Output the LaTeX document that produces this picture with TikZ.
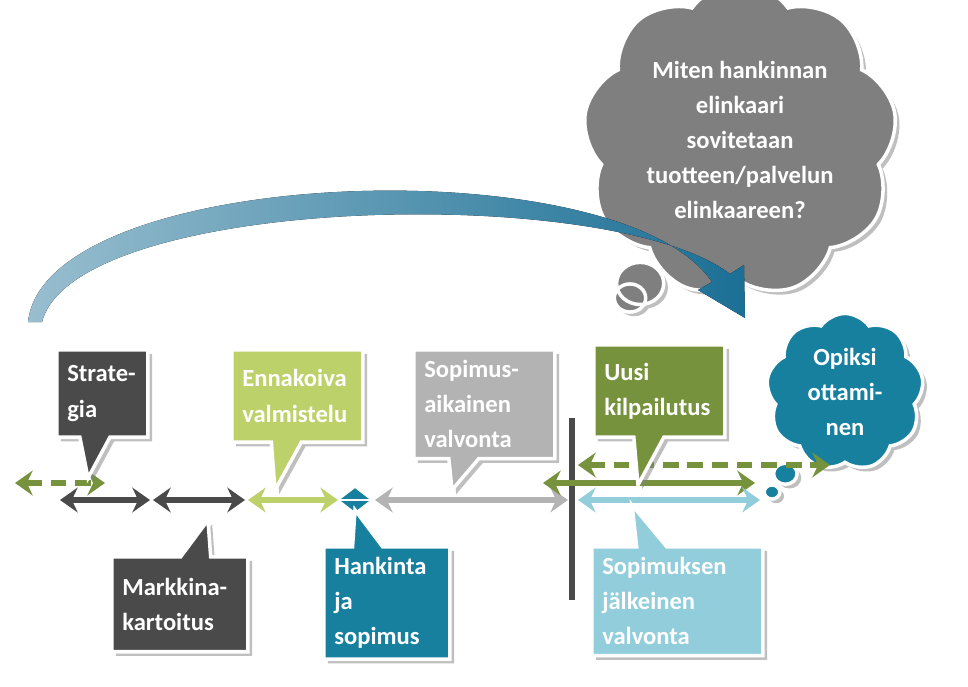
\documentclass[tikz,border=0pt]{standalone}
\usepackage{fontspec}
\setmainfont{Carlito}
\usetikzlibrary{shapes.callouts, shapes.symbols, shapes.geometric, shadows, arrows.meta}
\definecolor{darkgray}{HTML}{4A4A4A}
\definecolor{lightgreen}{HTML}{BDD16A}
\definecolor{midgray}{HTML}{B3B3B3}
\definecolor{olive}{HTML}{76923C}
\definecolor{teal}{HTML}{17809F}
\definecolor{lightblue}{HTML}{92CDDC}
\definecolor{cloudgray}{HTML}{7F7F7F}
\definecolor{arcblue}{HTML}{1B6F95}
\tikzstyle{phase} = [rectangle callout, draw=white, line width=2pt, drop shadow, text=white, font=\bfseries\fontsize{14}{20}\selectfont, align=left, anchor=north west, inner sep=6pt, callout pointer width=0.6cm]
\tikzstyle{line} = [line width=3.5pt, {Stealth[length=10pt,width=14pt]}-{Stealth[length=10pt,width=14pt]}]
\tikzstyle{thought} = [cloud callout, cloud puffs=9, cloud puff arc=110, aspect=1, draw=white, line width=2pt, drop shadow, text=white, font=\bfseries\fontsize{14}{20}\selectfont, align=center]

\begin{document}
\begin{tikzpicture}[x=0.02cm, y=-0.02cm]
  \useasboundingbox (0,0) rectangle (968,687);

  % clouds
  \node (big) [thought, fill=cloudgray, minimum width=5.9cm, minimum height=5cm, callout absolute pointer={(630,298)}] at (740,140) {Miten hankinnan\\elinkaari\\sovitetaan\\tuotteen/palvelun\\elinkaareen?};
  \node (opi) [thought, fill=teal, minimum width=2.8cm, minimum height=3cm, callout absolute pointer={(772,492)}] at (845,392) {Opiksi\\ottami-\\nen};

  % arc
  \fill[left color=arcblue!45, right color=arcblue] (28,322) .. controls (45,165) and (620,145) .. (712,282) -- (698,290) -- (745,318) -- (744,265) -- (730,274) .. controls (610,182) and (75,195) .. (42,322) -- cycle;

  % timeline
  \draw (572,418) -- (572,600) [line width=3pt, draw=darkgray];
  \draw [line, dash pattern=on 9pt off 5pt, olive] (15,483) -- (105,483);
  \draw [line, darkgray] (60,500) -- (150,500);
  \draw [line, darkgray] (153,500) -- (245,500);
  \draw [line, lightgreen] (248,500) -- (338,500);
  \node (diam) [diamond, fill=teal, draw=white, minimum width=0.65cm, minimum height=0.5cm, inner sep=0pt] at (355,500) {};
  \draw [white, line width=1pt] (diam.west) -- (diam.east);
  \draw [line, midgray] (375,500) -- (568,500);
  \draw [line, olive] (543,483) -- (755,483);
  \draw [line, dash pattern=on 9pt off 5pt, olive] (578,465) -- (830,465);
  \draw [line, lightblue] (578,500) -- (760,500);

  % phases
  \node (str) [phase, fill=darkgray, minimum width=1.8cm, minimum height=1.75cm, text width=1.4cm, callout absolute pointer={(88,478)}] at (55,348) {Strate-\\gia};
  \node (enn) [phase, fill=lightgreen, minimum width=2.5cm, minimum height=1.85cm, text width=2.2cm, callout absolute pointer={(275,490)}] at (230,348) {Ennakoiva\\valmistelu};
  \node (sop) [phase, fill=midgray, minimum width=2.75cm, minimum height=1.85cm, text width=2.4cm, callout absolute pointer={(452,490)}] at (412,348) {Sopimus-\\aikainen\\valvonta};
  \node (uus) [phase, fill=olive, minimum width=2.5cm, minimum height=1.85cm, text width=2.2cm, callout absolute pointer={(638,485)}] at (592,343) {Uusi\\kilpailutus};
  \node (mar) [phase, fill=darkgray, minimum width=2.7cm, minimum height=1.9cm, text width=2.3cm, callout absolute pointer={(208,520)}] at (110,555) {Markkina-\\kartoitus};
  \node (han) [phase, fill=teal, minimum width=2.45cm, minimum height=2.1cm, text width=2.1cm, callout absolute pointer={(355,510)}] at (322,545) {Hankinta\\ja\\sopimus};
  \node (jal) [phase, fill=lightblue, minimum width=3.35cm, minimum height=2.1cm, text width=3cm, callout absolute pointer={(632,505)}] at (590,545) {Sopimuksen\\jälkeinen\\valvonta};
\end{tikzpicture}
\end{document}
